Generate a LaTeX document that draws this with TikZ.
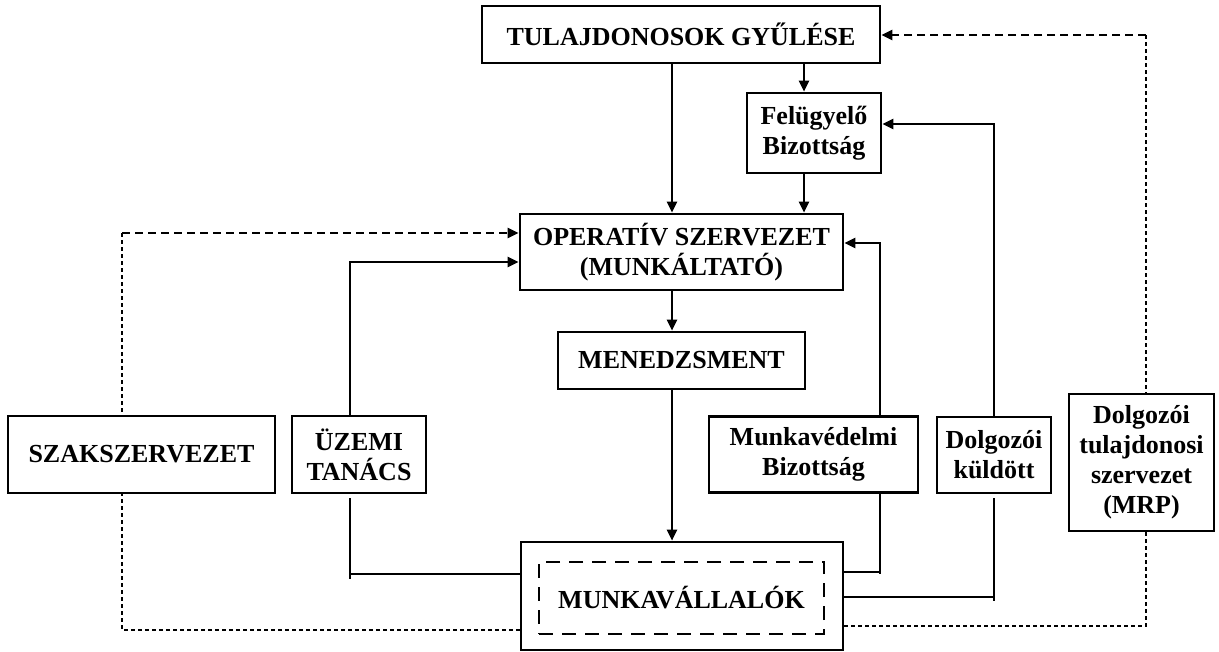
\documentclass[tikz,border=0pt]{standalone}
\usepackage{fontspec}
\setmainfont{Liberation Serif}
\usetikzlibrary{arrows.meta,calc}
\pgfdeclarelayer{bg}
\pgfsetlayers{bg,main}
\begin{document}
\begin{tikzpicture}[x=1pt,y=-1pt,
  box/.style={draw,line width=2.6pt,fill=white,inner sep=0pt,align=center,
    font=\fontsize{26}{30}\selectfont\bfseries},
  ln/.style={line width=2.4pt,line join=miter},
  arr/.style={-{Triangle[length=11pt,width=10pt]}},
  bdash/.style={line width=2.4pt,dash pattern=on 8pt off 5pt},
  tdot/.style={line width=1.2pt,dash pattern=on 4pt off 3pt},
  idash/.style={draw,line width=2.6pt,dash pattern=on 14pt off 9pt,inner sep=0pt,align=center,
    font=\fontsize{26}{30}\selectfont\bfseries}]
\useasboundingbox (0,0) rectangle (1219,652);

% nodes
\node[box,minimum width=398pt,minimum height=57pt] (tg) at (681,34.5) {TULAJDONOSOK GYŰLÉSE};
\node[box,minimum width=134pt,minimum height=80pt] (fb) at (814,133) {Felügyelő\\Bizottság};
\node[box,minimum width=323pt,minimum height=76pt] (os) at (681.5,252) {OPERATÍV SZERVEZET\\(MUNKÁLTATÓ)};
\node[box,minimum width=247pt,minimum height=57pt] (men) at (681.5,360.5) {MENEDZSMENT};
\node[box,minimum width=267pt,minimum height=77pt] (szak) at (141.5,454.5) {SZAKSZERVEZET};
\node[box,minimum width=134pt,minimum height=77pt] (uz) at (359,454.5) {ÜZEMI\\TANÁCS};
\node[box,minimum width=209pt,minimum height=76pt] (mvb) at (813.5,454.5) {Munkavédelmi\\Bizottság};
\node[box,minimum width=114pt,minimum height=76pt] (dk) at (994,455) {Dolgozói\\küldött};
\node[box,minimum width=145pt,minimum height=137pt] (mrp) at (1141.5,462.5) {Dolgozói\\tulajdonosi\\szervezet\\(MRP)};
\node[box,minimum width=322pt,minimum height=108pt] (mv) at (682,596) {};
\node[idash,minimum width=285pt,minimum height=72pt] (mvi) at (681.5,598) {MUNKAVÁLLALÓK};

% helper coordinates
\coordinate (c672) at (672,0);
\coordinate (c804) at (804,0);
\coordinate (cl) at (122,233);
\coordinate (bl) at (122,630);
\coordinate (tr) at (1146,35);
\coordinate (br) at (1146,626);
\coordinate (uzt) at (350,262);
\coordinate (uzb) at (350,574);
\coordinate (mvt) at (880,243);
\coordinate (mvbb) at (880,572);
\coordinate (dkt) at (994,124);
\coordinate (dkb) at (994,597);

\begin{pgfonlayer}{bg}
% vertical main flow
\draw[ln,arr] (tg.south -| c672) -- (os.north -| c672);
\draw[ln,arr] (tg.south -| c804) -- (fb.north -| c804);
\draw[ln,arr] (fb.south -| c804) -- (os.north -| c804);
\draw[ln,arr] (os.south -| c672) -- (men.north -| c672);
\draw[ln,arr] (men.south -| c672) -- (mv.north -| c672);

% Uzemi tanacs
\draw[ln,arr] (uz.north -| uzt) -- (uzt) -- (uzt -| os.west);
\draw[ln] ($(uz.south -| uzb)+(0,4)$) -- ($(uzb)+(0,5)$);
\draw[ln] (uzb) -- (uzb -| mv.west);

% Munkavedelmi bizottsag
\draw[ln,arr] (mvb.north -| mvt) -- (mvt) -- (mvt -| os.east);
\draw[ln] (mvb.south -| mvbb) -- ($(mvbb)+(0,2)$);
\draw[ln] (mvbb) -- (mvbb -| mv.east);

% Dolgozoi kuldott
\draw[ln,arr] (dk.north -| dkt) -- (dkt) -- (dkt -| fb.east);
\draw[ln] ($(dk.south -| dkb)+(0,4)$) -- ($(dkb)+(0,4)$);
\draw[ln] (dkb) -- (dkb -| mv.east);

% Szakszervezet (dashed / dotted)
\draw[tdot] (bl -| mv.west) -- (bl) -- (cl);
\draw[bdash,arr] (cl) -- (cl -| os.west);

% MRP (dashed / dotted)
\draw[tdot] (br -| mv.east) -- (br) -- (tr);
\draw[bdash,arr] (tr) -- (tr -| tg.east);
\end{pgfonlayer}
\end{tikzpicture}
\end{document}
